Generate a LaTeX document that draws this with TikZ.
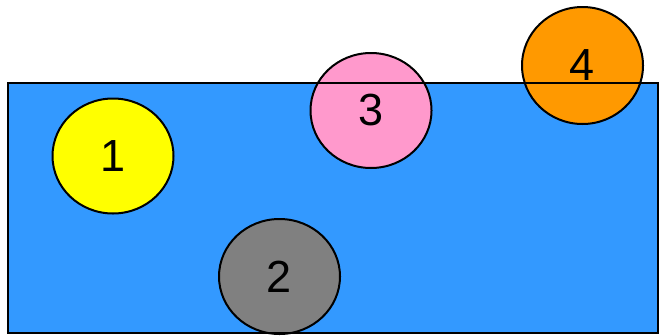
\documentclass[tikz,border=0pt]{standalone}
\usepackage{fontspec}
\setmainfont{Liberation Sans}
\usetikzlibrary{shapes.geometric}
\definecolor{sea}{HTML}{3399FF}
\definecolor{yel}{HTML}{FFFF00}
\definecolor{gry}{HTML}{808080}
\definecolor{pnk}{HTML}{FF99CC}
\definecolor{org}{HTML}{FF9900}
\tikzset{
  disc/.style={ellipse, draw=black, line width=2pt, minimum width=121pt, minimum height=115pt, inner sep=0pt, font=\fontsize{45}{45}\selectfont, text=black},
  pool/.style={draw=black, line width=2pt}
}
\begin{document}
\begin{tikzpicture}[x=1pt,y=-1pt]
\useasboundingbox (0,0) rectangle (668,335);
\fill[sea] (7.5,83) rectangle (657.5,333);
\node[disc, fill=yel] (c1) at (113,156) {1};
\node[disc, fill=gry] (c2) at (279.5,276.5) {2};
\node[disc, fill=pnk] (c3) at (371,110.5) {3};
\node[disc, fill=org, minimum height=117pt] (c4) at (582.5,65.5) {4};
\draw[pool] (7.5,83) rectangle (657.5,333);
\end{tikzpicture}
\end{document}
